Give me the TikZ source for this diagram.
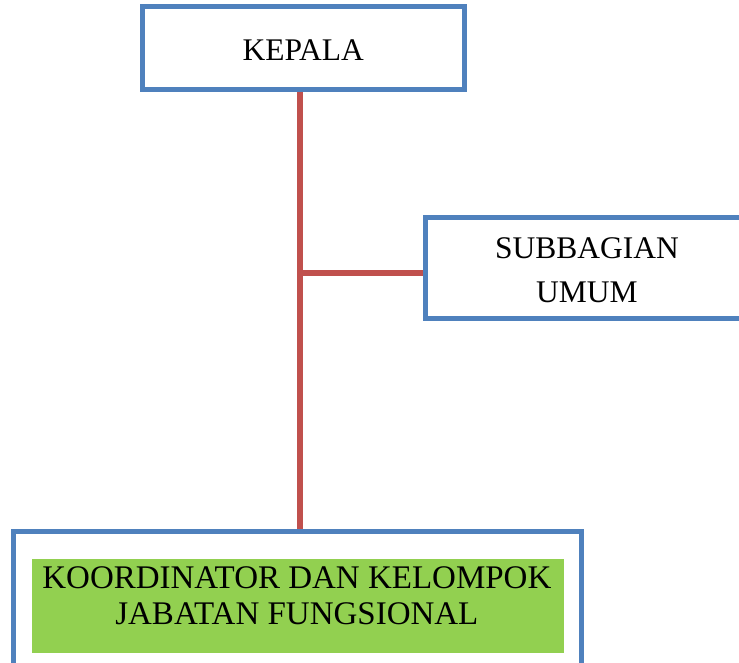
\documentclass[tikz,border=0pt]{standalone}
\usepackage{fontspec}
\setmainfont{Liberation Serif}
\usepackage{xcolor}
\usepackage{tikz}
\usetikzlibrary{positioning, calc}

\definecolor{boxblue}{HTML}{4F81BD}
\definecolor{linered}{HTML}{C0504D}
\definecolor{fillgreen}{HTML}{92D050}

\begin{document}
\begin{tikzpicture}[x=1pt, y=-1pt,
  unitbox/.style={draw=boxblue, line width=5pt, rectangle, inner sep=0pt, fill=white},
  connline/.style={linered, line width=6pt},
  boxtext/.style={font=\fontsize{31.5}{44}\selectfont, align=center}]
  % Page size (pixel units)
  \useasboundingbox (0,0) rectangle (739,663);
  \clip (0,0) rectangle (739,663);

  % Units
  \node[unitbox, minimum width=321.5pt, minimum height=83pt] (kepala) at (303.25,48) {};
  \node[unitbox, minimum width=323pt, minimum height=100pt] (subbag) at (587,268) {};
  \node[unitbox, minimum width=568.5pt, minimum height=135pt] (koord) at (297.25,598.5) {};
  \node[fill=fillgreen, inner sep=0pt, minimum width=531.7pt, minimum height=93.7pt] (koordfill) at (297.9,605.85) {};

  % Labels
  \node[boxtext] (kepalatxt) at ($(kepala.center)+(0,2)$) {KEPALA};
  \node[boxtext] (subbagtxt) at ($(subbag.center)+(0,2)$) {SUBBAGIAN\\UMUM};
  \node[boxtext, font=\fontsize{33}{36}\selectfont] (koordtxt) at ($(koordfill.center)+(-1,-10)$) {KOORDINATOR DAN KELOMPOK\\JABATAN FUNGSIONAL};

  % Connectors
  \coordinate (trunk) at (300,0);
  \coordinate (branch) at (300,272.5);
  \draw[connline] (trunk |- kepala.south) -- (trunk |- koord.north);
  \draw[connline] ([xshift=-3pt]branch) -- (branch -| subbag.west);
\end{tikzpicture}
\end{document}
